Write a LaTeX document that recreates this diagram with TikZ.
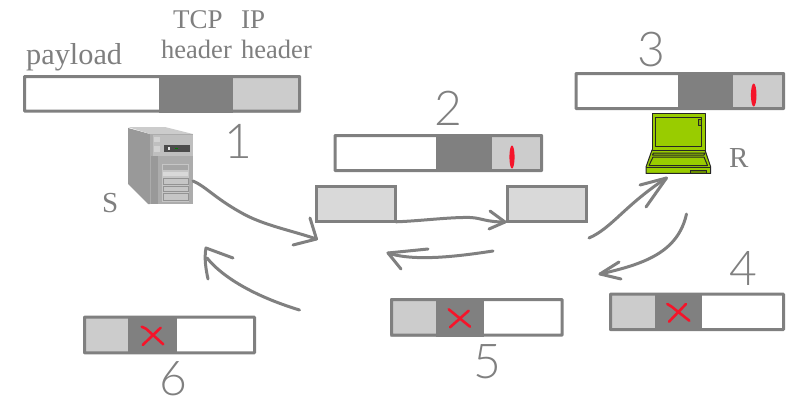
\documentclass[tikz,border=0pt]{standalone}
\usepackage{fontspec}
\setmainfont{Liberation Serif}
\newfontfamily\digitfont{Lato Light}
\definecolor{ink}{HTML}{808080}
\definecolor{lightseg}{HTML}{CCCCCC}
\definecolor{boxfill}{HTML}{D9D9D9}
\definecolor{redink}{HTML}{F5142A}
\definecolor{lime}{HTML}{99CC00}
\definecolor{labelgray}{HTML}{7F7F7F}
\tikzset{
  pktframe/.style={draw=ink,line width=3pt,rounded corners=0.6pt,inner sep=0pt,outer sep=0pt,anchor=north west},
  smallbox/.style={draw=ink,line width=3pt,fill=boxfill,inner sep=0pt,outer sep=0pt,anchor=north west,minimum width=79pt,minimum height=35pt},
  hand/.style={draw=ink,line width=3pt,line cap=round,line join=round},
  crossmark/.style={draw=redink,line width=2.6pt,line cap=round,line join=round},
  lbl/.style={text=labelgray,inner sep=0pt,anchor=base west},
  digit/.style={text=ink,inner sep=0pt,font=\digitfont\fontsize{48}{48}\selectfont},
  lap/.style={draw=black!85,fill=lime,line width=1pt,line join=round}
}
\newcommand{\pktbar}[9]{%
  \fill[#8] (#2,#3) rectangle (#6,#5);
  \fill[ink] (#6,#3) rectangle (#7,#5);
  \fill[#9] (#7,#3) rectangle (#4,#5);
  \pgfmathsetmacro{\pw}{#4-#2-3}\pgfmathsetmacro{\ph}{#5-#3-3}
  \node[pktframe,minimum width=\pw pt,minimum height=\ph pt] (#1) at (#2+1.5,#3+1.5) {};
}
\begin{document}
\begin{tikzpicture}[x=1pt,y=-1pt]
\useasboundingbox (0,0) rectangle (792,404);
\fill[white] (0,0) rectangle (792,404);

% packets
\pktbar{p1}{23}{75}{301}{112.5}{158.5}{233}{white}{lightseg}
\pktbar{p2}{333.5}{134}{543}{172}{435.7}{491.7}{white}{lightseg}
\pktbar{p3}{574.5}{72}{785}{110}{678}{732.7}{white}{lightseg}
\pktbar{p4}{609}{292.7}{785}{331}{654.7}{702.3}{lightseg}{white}
\pktbar{p5}{390}{298}{563.7}{336.7}{435.7}{484}{lightseg}{white}
\pktbar{p6}{83}{315.7}{256}{354.3}{128.3}{176.7}{lightseg}{white}

% small boxes
\node[smallbox] (boxL) at (316.8,186.8) {};
\node[smallbox] (boxR) at (507.2,186.8) {};

% labels
\node[lbl,font=\fontsize{30.3}{30}\selectfont] (lpayload) at (26,65) {payload};
\node[lbl,font=\fontsize{27}{27}\selectfont] (ltcp) at (173,29) {TCP};
\node[lbl,font=\fontsize{27}{27}\selectfont] (lip) at (241,29) {IP};
\node[lbl,font=\fontsize{26.5}{26.5}\selectfont] (lh1) at (161,59) {header};
\node[lbl,font=\fontsize{26.5}{26.5}\selectfont] (lh2) at (241,59) {header};
\node[lbl,font=\fontsize{29}{29}\selectfont] (lS) at (102,212) {S};
\node[lbl,font=\fontsize{29}{29}\selectfont] (lR) at (729,167) {R};

% digits
\node[digit] (d1) at (238,141) {1};
\node[digit] (d2) at (448,108) {2};
\node[digit] (d3) at (651,50) {3};
\node[digit] (d4) at (743,268) {4};
\node[digit] (d5) at (487,362) {5};
\node[digit] (d6) at (173,379) {6};

% server
\fill[gray!80] (128,128) -- (150,134) -- (150,204) -- (148,204) -- (128,184) -- cycle;
\fill[gray!40] (128,127) -- (165,127) -- (193,134) -- (150,134) -- cycle;
\fill[gray!65] (150,134) -- (193,134) -- (193,204) -- (150,204) -- cycle;
\fill[gray!50] (153,135) rectangle (193,156);
\fill[gray!80] (151,156) rectangle (158,204);
\fill[gray!35] (154,137) rectangle (160,142);
\fill[gray!35] (154,146) rectangle (160,152);
\fill[black!70] (164,145) rectangle (190,152);
\fill[green!50!black] (175,147.5) rectangle (178,149);
\fill[white!80!gray] (168,146.5) rectangle (170,150);
\fill[gray!45] (162,164) rectangle (189,202);
\fill[gray!70] (163,165) rectangle (188,170);
\fill[gray!30] (163,172) rectangle (188,176);
\draw[gray!85,line width=.7pt] (163,178) rectangle (188,184);
\draw[gray!85,line width=.7pt] (163,186) rectangle (188,191);
\draw[gray!85,line width=.7pt] (163,193) rectangle (188,200);

% laptop
\draw[lap] (646,173.3) -- (646,167) -- (652,150) -- (705,150) -- (710.7,167) -- (710.7,173.3) -- cycle;
\draw[lap] (652,113.7) rectangle (705,150.5);
\draw[lap] (655,117) rectangle (701,146.5);
\draw[lap,fill=lime!85!black] (698.5,119.5) rectangle (701,125.5);
\draw[lap] (652.5,155) -- (704,155) -- (705,153) -- (653.5,153) -- cycle;
\draw[lap] (649,165.5) -- (653,157) -- (704,157) -- (707.5,165.5) -- cycle;
\draw[lap] (646,167) -- (710.7,167);
\draw[lap,fill=lime!70!black] (690,170) rectangle (706.5,173.3);

% red marks
\fill[redink] (512,157) ellipse (2.6pt and 11.5pt);
\fill[redink] (753.7,95) ellipse (2.8pt and 11.5pt);
\draw[crossmark] (669,321.7) -- (686,304);
\draw[crossmark] (667.3,304) -- (671.7,306.7) -- (689.3,320.7);
\draw[crossmark] (450,327.3) -- (468.7,310.7);
\draw[crossmark] (448.7,309.3) -- (470,326.7);
\draw[crossmark] (142.7,345) -- (160.7,327.7);
\draw[crossmark] (141.7,326.7) -- (146,328.7) -- (163.3,344.3);

% connectors
\coordinate (srvout) at (193,181);
\coordinate (t1) at (316.5,239);
\draw[hand] (srvout) .. controls (205,186) and (215,198) .. (240,212) .. controls (262,225) and (290,230) .. (t1);
\draw[hand] (310,218) -- (t1) -- (293,245);

\coordinate (t2) at (505,222);
\draw[hand] (boxL.south east) .. controls (420,221) and (450,217) .. (470,217.5) .. controls (482,218) and (485,222) .. (t2);
\draw[hand] (490,211) -- (t2) -- (489,229);

\coordinate (s3) at (493,251);
\coordinate (t3) at (388,253);
\draw[hand] (s3) .. controls (460,256) and (415,262) .. (t3);
\draw[hand] (428,249) -- (t3) -- (401,269);

\coordinate (s4) at (589,238);
\coordinate (t4) at (666.5,178);
\draw[hand] (s4) .. controls (612,228) and (625,205) .. (t4);
\draw[hand] (640,185) -- (t4) -- (646,207);

\coordinate (s5) at (686.5,214);
\coordinate (t5) at (600,274);
\draw[hand] (s5) .. controls (678,252) and (645,264) .. (t5);
\draw[hand] (619,262) -- (t5) -- (621,279);

\coordinate (s6) at (299.5,310);
\coordinate (t6) at (206,248);
\draw[hand] (s6) .. controls (260,298) and (225,280) .. (207,258);
\draw[hand] (233,258) -- (t6) .. controls (204,258) and (206,270) .. (208,279);
\end{tikzpicture}
\end{document}
